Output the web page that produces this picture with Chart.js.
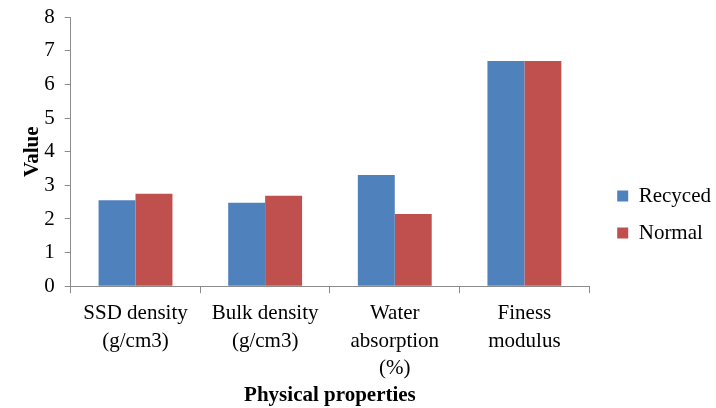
<!DOCTYPE html>
<html>
<head>
<meta charset="utf-8">
<script src="https://cdn.jsdelivr.net/npm/chart.js@4"></script>
<style>
    body { margin: 0; background: #fff; }
</style>
</head>
<body>
<canvas id="propsChart" width="716" height="408"></canvas>
<script>
const categories = [
    ['SSD density', '(g/cm3)'],
    ['Bulk density', '(g/cm3)'],
    ['Water', 'absorption', '(%)'],
    ['Finess', 'modulus']
];
const recycedValues = [2.56, 2.48, 3.31, 6.70];
const normalValues = [2.75, 2.69, 2.15, 6.70];
const yTicks = [0, 1, 2, 3, 4, 5, 6, 7, 8];

const serif = "'Liberation Serif', 'Times New Roman', serif";
const axisGrey = '#8c8c8c';

// moves the legend block a little down/right of where Chart.js puts it
const legendNudge = {
    id: 'legendNudge',
    afterLayout(chart) {
        const lg = chart.legend;
        lg.top += 8;
        lg.bottom += 8;
        lg.left += 12;
        lg.right += 12;
    }
};

const ctx = document.getElementById('propsChart').getContext('2d');

const chart = new Chart(ctx, {
    type: 'bar',
    data: {
        labels: categories,
        datasets: [{
            label: 'Recyced',
            data: recycedValues,
            backgroundColor: '#4f81bd',
            borderWidth: 0
        }, {
            label: 'Normal',
            data: normalValues,
            backgroundColor: '#c0504d',
            borderWidth: 0
        }]
    },
    options: {
        responsive: false,
        animation: false,
        layout: {
            padding: { top: 5, left: 5, right: 7, bottom: 0 }
        },
        datasets: {
            bar: {
                categoryPercentage: 0.57,
                barPercentage: 1
            }
        },
        plugins: {
            tooltip: { enabled: false },
            legend: {
                position: 'right',
                labels: {
                    boxWidth: 11,
                    boxHeight: 11,
                    padding: 16,
                    color: '#000',
                    font: { family: serif, size: 21 }
                }
            }
        },
        scales: {
            x: {
                grid: {
                    display: true,
                    drawOnChartArea: false,
                    offset: true,
                    tickLength: 7,
                    color: axisGrey
                },
                border: { color: axisGrey, width: 1 },
                ticks: {
                    color: '#000',
                    maxRotation: 0,
                    padding: 7,
                    font: { family: serif, size: 21, lineHeight: 1.3 }
                },
                title: {
                    display: true,
                    text: 'Physical properties',
                    color: '#000',
                    padding: { top: -3, bottom: 3 },
                    font: { family: serif, size: 21, weight: 'bold', lineHeight: 0.9 }
                }
            },
            y: {
                min: yTicks[0],
                max: yTicks[yTicks.length - 1],
                grid: {
                    display: true,
                    drawOnChartArea: false,
                    tickLength: 6,
                    color: axisGrey
                },
                border: { color: axisGrey, width: 1 },
                afterBuildTicks(scale) {
                    scale.ticks = yTicks.map(v => ({ value: v }));
                },
                ticks: {
                    color: '#000',
                    padding: 10,
                    font: { family: serif, size: 21, lineHeight: 0.7 }
                },
                title: {
                    display: true,
                    text: 'Value',
                    color: '#000',
                    padding: { top: 15, bottom: -11 },
                    font: { family: serif, size: 21, weight: 'bold' }
                }
            }
        }
    },
    plugins: [legendNudge]
});
</script>
</body>
</html>
